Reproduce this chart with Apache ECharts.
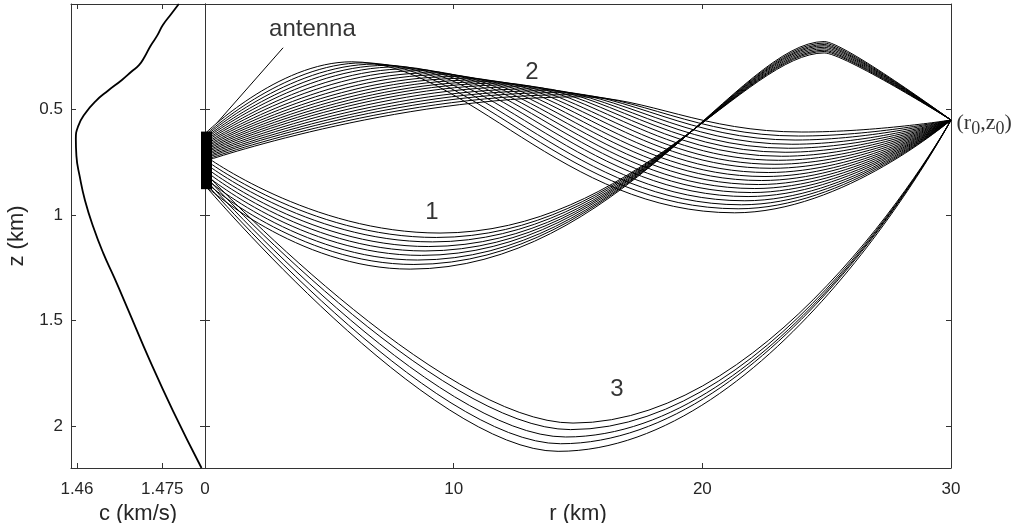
<!DOCTYPE html>
<html><head><meta charset="utf-8">
<script src="https://cdn.jsdelivr.net/npm/echarts@6/dist/echarts.min.js"></script>
<style>html,body{margin:0;padding:0;background:#fff}#c{width:1016px;height:523px}</style>
</head><body><div id="c"></div>
<script>
// ---- sound-speed profile (left panel) ----
const cDepth = [0, 0.05, 0.10, 0.15, 0.20, 0.25, 0.29, 0.32, 0.36, 0.41, 0.46, 0.52, 0.58, 0.64, 0.72, 0.82, 0.93, 1.06, 1.18, 1.30, 1.45, 1.69, 1.93, 2.2];
const cSpeed = [1.4779, 1.4765, 1.4751, 1.4741, 1.4729, 1.4719, 1.4709, 1.4696, 1.4679, 1.4655, 1.4633, 1.4614, 1.4602, 1.4598, 1.4599, 1.4605, 1.4614, 1.4629, 1.4646, 1.4666, 1.4690, 1.4728, 1.4769, 1.4819];
const cTicks = [1.46, 1.475];
const zTicks = [0.5, 1, 1.5, 2];

// ---- receiver point ----
const recvR = 30, recvZ = 0.55;

// ---- ray family 1 (start -> trough -> peak -> receiver) ----
const fam1StartZ = [0.72, 0.738, 0.755, 0.773, 0.79, 0.808, 0.825, 0.843, 0.86];
const fam1TroughR = [9.45, 9.3, 9.15, 9.0, 8.85, 8.7, 8.55, 8.4, 8.25];
const fam1TroughZ = [1.086, 1.107, 1.128, 1.15, 1.171, 1.192, 1.214, 1.235, 1.257];
const fam1PeakR = [24.9, 24.9, 24.9, 24.9, 24.9, 24.9, 24.9, 24.9, 24.9];
const fam1PeakZ = [0.232, 0.225, 0.219, 0.212, 0.205, 0.198, 0.192, 0.185, 0.178];

// ---- ray family 2 (start -> peak -> trough -> receiver) ----
const fam2StartZ = [0.615, 0.622, 0.628, 0.635, 0.641, 0.648, 0.654, 0.661, 0.667, 0.674, 0.68, 0.687, 0.693, 0.70, 0.706, 0.713, 0.719, 0.726, 0.732, 0.739, 0.745];
const fam2PeakR = [5.9, 6.36, 6.82, 7.28, 7.74, 8.2, 8.66, 9.12, 9.58, 10.04, 10.5, 10.96, 11.42, 11.88, 12.34, 12.8, 13.26, 13.72, 14.18, 14.64, 15.1];
const fam2PeakZ = [0.274, 0.279, 0.285, 0.291, 0.298, 0.307, 0.316, 0.326, 0.335, 0.344, 0.352, 0.36, 0.368, 0.375, 0.383, 0.392, 0.402, 0.411, 0.42, 0.43, 0.44];
const fam2TroughR = [21.3, 21.44, 21.57, 21.71, 21.84, 21.98, 22.11, 22.25, 22.38, 22.52, 22.65, 22.79, 22.92, 23.06, 23.19, 23.33, 23.46, 23.6, 23.73, 23.87, 24.0];
const fam2TroughZ = [0.99, 0.971, 0.952, 0.933, 0.913, 0.894, 0.875, 0.856, 0.837, 0.818, 0.799, 0.779, 0.76, 0.741, 0.722, 0.703, 0.684, 0.665, 0.645, 0.626, 0.607];

// ---- ray family 3 (start -> deep trough -> receiver) ----
const fam3StartZ = [0.80, 0.815, 0.83, 0.845, 0.86];
const fam3TroughR = [14.8, 14.7, 14.5, 14.3, 14.2];
const fam3TroughZ = [1.987, 2.018, 2.053, 2.085, 2.121];

// ---- antenna and annotations ----
const antennaR = 0.06, antennaTop = 0.605, antennaBottom = 0.878;
const pointerLine = [[3.14, 0.2075], [0.483, 0.5636]];
const noteText = ['antenna', '1', '2', '3'];
const noteR = [4.32, 9.13, 13.15, 16.57];
const noteZ = [0.12, 0.986, 0.322, 1.827];

// build ray key-point lists
const fam1Rays = fam1StartZ.map((z, i) => [[0, z], [fam1TroughR[i], fam1TroughZ[i]], [fam1PeakR[i], fam1PeakZ[i]], [recvR, recvZ]]);
const fam2Rays = fam2StartZ.map((z, i) => [[0, z], [fam2PeakR[i], fam2PeakZ[i]], [fam2TroughR[i], fam2TroughZ[i]], [recvR, recvZ]]);
const fam3Rays = fam3StartZ.map((z, i) => [[0, z], [fam3TroughR[i], fam3TroughZ[i]], [recvR, recvZ]]);

// handle fractions per segment (turning points have horizontal tangents)
const fam1Handles = [[null, 0.55], [0.5, 0.2], [0.15, null]];
const fam2Handles = [[null, 0.5], [0.3, 0.45], [0.5, null]];
const fam3Handles = [[null, 0.36], [0.55, null]];

function rayRenderer(rays, handles) {
  return function (params, api) {
    const pts = rays[params.dataIndex].map(p => api.coord(p));
    let d = 'M' + pts[0][0] + ' ' + pts[0][1];
    for (let j = 0; j < pts.length - 1; j++) {
      const a = pts[j], b = pts[j + 1], dx = b[0] - a[0];
      const h = handles[j];
      const c1 = h[0] == null ? a : [a[0] + h[0] * dx, a[1]];
      const c2 = h[1] == null ? b : [b[0] - h[1] * dx, b[1]];
      d += ' C' + c1[0] + ' ' + c1[1] + ' ' + c2[0] + ' ' + c2[1] + ' ' + b[0] + ' ' + b[1];
    }
    return { type: 'path', silent: true, shape: { pathData: d }, style: { stroke: '#000', fill: 'none', lineWidth: 1 } };
  };
}
function raySeries(rays, handles) {
  return {
    type: 'custom', xAxisIndex: 2, yAxisIndex: 2, silent: true,
    dimensions: ['r', 'z'], encode: { x: 0, y: 1 },
    data: rays.map(r => r[0]),
    renderItem: rayRenderer(rays, handles)
  };
}

const AX = '#333';
const FONT = "'Liberation Sans', Arial, Helvetica, sans-serif";
const lbl = { color: '#262626', fontFamily: FONT, fontSize: 17 };
function boxAxis(extra) {
  return Object.assign({
    type: 'value', axisLine: { show: true, onZero: false, lineStyle: { color: AX, width: 1 } },
    splitLine: { show: false }, axisTick: { show: true, inside: true, length: 5, lineStyle: { color: AX } },
    axisLabel: { show: false }
  }, extra);
}

const chart = echarts.init(document.getElementById('c'), null, { renderer: 'canvas' });
chart.setOption({
  animation: false,
  backgroundColor: '#fff',
  grid: [
    { left: 71, right: 811, top: 4, bottom: 55, containLabel: false, outerBoundsMode: 'none' },
    { left: 205, right: 65, top: 4, bottom: 55, containLabel: false, outerBoundsMode: 'none' }
  ],
  xAxis: [
    boxAxis({ gridIndex: 0, position: 'bottom', min: 1.45895, max: 1.48251,
      axisTick: { show: true, inside: true, length: 5, customValues: cTicks, lineStyle: { color: AX } },
      axisLabel: Object.assign({ show: true, margin: 13, customValues: cTicks }, lbl),
      name: 'c (km/s)', nameLocation: 'middle', nameGap: 32,
      nameTextStyle: { color: '#262626', fontFamily: FONT, fontSize: 22 } }),
    boxAxis({ gridIndex: 0, position: 'top', min: 1.45895, max: 1.48251,
      axisTick: { show: true, inside: true, length: 5, customValues: cTicks, lineStyle: { color: AX } } }),
    boxAxis({ gridIndex: 1, position: 'bottom', min: 0, max: 30, interval: 10,
      axisLabel: Object.assign({ show: true, margin: 13 }, lbl),
      name: 'r (km)', nameLocation: 'middle', nameGap: 32,
      nameTextStyle: { color: '#262626', fontFamily: FONT, fontSize: 22 } }),
    boxAxis({ gridIndex: 1, position: 'top', min: 0, max: 30, interval: 10 })
  ],
  yAxis: [
    boxAxis({ gridIndex: 0, position: 'left', min: 0, max: 2.2, inverse: true,
      axisTick: { show: true, inside: true, length: 5, customValues: zTicks, lineStyle: { color: AX } },
      axisLabel: Object.assign({ show: true, margin: 8, customValues: zTicks }, lbl),
      name: 'z (km)', nameLocation: 'middle', nameGap: 43,
      nameTextStyle: { color: '#262626', fontFamily: FONT, fontSize: 22 } }),
    boxAxis({ gridIndex: 0, position: 'right', min: 0, max: 2.2, inverse: true,
      axisTick: { show: true, inside: true, length: 5, customValues: zTicks, lineStyle: { color: AX } } }),
    boxAxis({ gridIndex: 1, position: 'left', min: 0, max: 2.2, inverse: true,
      axisTick: { show: true, inside: true, length: 5, customValues: zTicks, lineStyle: { color: AX } } }),
    boxAxis({ gridIndex: 1, position: 'right', min: 0, max: 2.2, inverse: true,
      axisTick: { show: true, inside: true, length: 5, customValues: zTicks, lineStyle: { color: AX } } })
  ],
  series: [
    { type: 'line', xAxisIndex: 0, yAxisIndex: 0, data: cDepth.map((z, i) => [cSpeed[i], z]),
      smooth: 0.5, showSymbol: false, silent: true, lineStyle: { color: '#000', width: 1.8 } },
    raySeries(fam2Rays, fam2Handles),
    raySeries(fam1Rays, fam1Handles),
    raySeries(fam3Rays, fam3Handles),
    { type: 'line', xAxisIndex: 2, yAxisIndex: 2, data: [[antennaR, antennaTop], [antennaR, antennaBottom]],
      clip: false, showSymbol: false, silent: true, lineStyle: { color: '#000', width: 11, cap: 'butt' } },
    { type: 'line', xAxisIndex: 2, yAxisIndex: 2, data: pointerLine,
      showSymbol: false, silent: true, lineStyle: { color: '#000', width: 1 } },
    { type: 'scatter', xAxisIndex: 2, yAxisIndex: 2, silent: true, symbolSize: 1,
      itemStyle: { color: 'rgba(0,0,0,0)' },
      data: noteText.map((t, i) => ({ value: [noteR[i], noteZ[i]], name: t })),
      label: { show: true, position: 'inside', formatter: p => p.name, color: '#000', fontFamily: FONT, fontSize: 24 } },
    { type: 'scatter', xAxisIndex: 2, yAxisIndex: 2, silent: true, symbolSize: 1,
      itemStyle: { color: 'rgba(0,0,0,0)' },
      data: [[recvR, recvZ]],
      label: { show: true, position: 'right', distance: 5, offset: [0, 3],
        formatter: '{a|(r}{s|0}{a|,z}{s|0}{a|)}',
        rich: {
          a: { fontFamily: "'Liberation Serif', 'Times New Roman', serif", fontSize: 22, lineHeight: 30, color: '#000' },
          s: { fontFamily: "'Liberation Serif', 'Times New Roman', serif", fontSize: 18, lineHeight: 18, verticalAlign: 'bottom', color: '#000' }
        } } }
  ]
});
</script></body></html>
